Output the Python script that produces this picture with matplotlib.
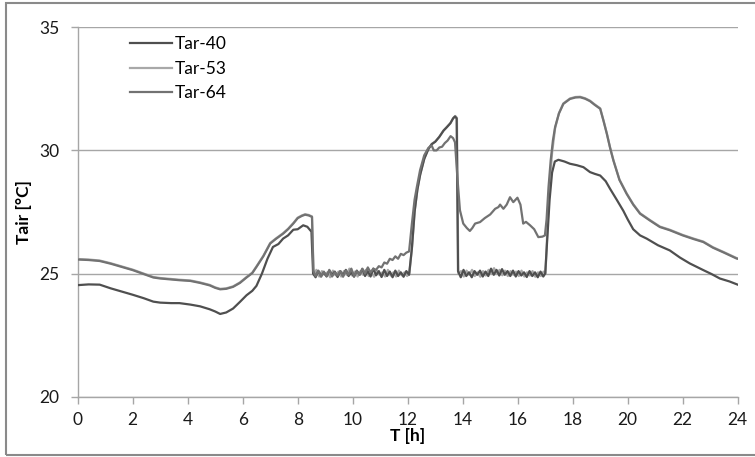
import numpy as np
import matplotlib
matplotlib.use("Agg")
import matplotlib.pyplot as plt
from matplotlib.patches import Rectangle

plt.rcParams['font.family'] = ['Lato', 'DejaVu Sans']

# (hour, air temperature °C)
tar_40 = [
    (0.00, 24.53), (0.40, 24.56), (0.80, 24.55), (1.20, 24.40), (1.60, 24.27), (2.00, 24.14),
    (2.40, 24.00), (2.75, 23.86), (3.00, 23.82), (3.40, 23.80), (3.70, 23.80), (4.10, 23.74),
    (4.45, 23.67), (4.80, 23.55), (5.00, 23.46), (5.18, 23.36), (5.40, 23.42), (5.65, 23.58),
    (5.90, 23.85), (6.14, 24.12), (6.35, 24.30), (6.50, 24.50), (6.70, 25.00), (6.90, 25.60),
    (7.10, 26.08), (7.30, 26.20), (7.47, 26.42), (7.65, 26.55), (7.84, 26.78), (8.00, 26.80),
    (8.20, 26.96), (8.35, 26.90), (8.50, 26.70), (8.56, 25.00),
    (8.65, 24.85), (8.75, 25.10), (8.85, 24.90), (8.95, 25.05), (9.05, 24.88), (9.15, 25.12),
    (9.25, 24.95), (9.35, 25.08), (9.45, 24.86), (9.55, 25.10), (9.65, 24.92), (9.75, 25.15),
    (9.85, 24.90), (9.95, 25.05), (10.05, 24.87), (10.15, 25.12), (10.25, 24.95), (10.35, 25.18),
    (10.45, 24.90), (10.55, 25.10), (10.65, 24.88), (10.75, 25.20), (10.85, 24.93), (10.95, 25.10),
    (11.05, 24.86), (11.15, 25.15), (11.25, 24.90), (11.35, 25.08), (11.45, 24.85), (11.55, 25.12),
    (11.65, 24.90), (11.75, 25.05), (11.85, 24.87), (11.95, 25.10), (12.05, 24.95),
    (12.15, 26.00), (12.25, 27.50), (12.35, 28.40), (12.45, 29.00), (12.60, 29.65), (12.75, 30.05),
    (12.87, 30.25), (13.00, 30.35), (13.15, 30.55), (13.30, 30.80), (13.42, 30.94), (13.55, 31.10),
    (13.65, 31.30), (13.72, 31.38), (13.78, 31.30), (13.83, 25.10),
    (13.93, 24.85), (14.03, 25.15), (14.13, 24.90), (14.23, 25.05), (14.33, 24.85), (14.43, 25.10),
    (14.53, 24.95), (14.63, 25.12), (14.73, 24.88), (14.83, 25.08), (14.93, 24.90), (15.03, 25.20),
    (15.13, 24.95), (15.23, 25.15), (15.33, 24.92), (15.43, 25.18), (15.53, 24.95), (15.63, 25.10),
    (15.73, 24.90), (15.83, 25.12), (15.93, 24.88), (16.03, 25.10), (16.13, 24.92), (16.23, 25.05),
    (16.33, 24.86), (16.43, 25.10), (16.53, 24.90), (16.63, 25.05), (16.73, 24.85), (16.83, 25.08),
    (16.93, 24.88), (17.00, 25.00),
    (17.08, 26.50), (17.16, 28.00), (17.25, 29.10), (17.35, 29.55), (17.48, 29.62), (17.70, 29.55),
    (17.90, 29.46), (18.15, 29.40), (18.39, 29.32), (18.63, 29.12), (18.80, 29.05), (19.00, 28.98),
    (19.20, 28.75), (19.36, 28.44), (19.60, 28.00), (19.84, 27.55), (20.00, 27.20), (20.20, 26.80),
    (20.45, 26.55), (20.69, 26.42), (21.10, 26.15), (21.53, 25.94), (21.90, 25.65), (22.26, 25.41),
    (22.75, 25.14), (23.05, 24.98), (23.35, 24.80), (23.70, 24.68), (24.00, 24.55),
]

tar_53 = [
    (0.00, 25.59), (0.40, 25.57), (0.80, 25.53), (1.20, 25.42), (1.60, 25.29), (2.00, 25.16),
    (2.40, 25.00), (2.75, 24.86), (3.00, 24.82), (3.40, 24.78), (3.70, 24.75), (4.10, 24.72),
    (4.45, 24.64), (4.80, 24.54), (5.00, 24.44), (5.18, 24.38), (5.40, 24.40), (5.65, 24.48),
    (5.90, 24.64), (6.14, 24.86), (6.35, 25.04), (6.50, 25.29), (6.75, 25.72), (7.00, 26.24),
    (7.20, 26.42), (7.47, 26.64), (7.65, 26.82), (7.84, 27.05), (8.00, 27.27), (8.15, 27.36),
    (8.27, 27.41), (8.40, 27.38), (8.52, 27.32), (8.58, 24.95),
    (8.68, 25.15), (8.78, 24.88), (8.88, 25.10), (8.98, 24.95), (9.08, 25.05), (9.18, 24.85),
    (9.28, 25.12), (9.38, 24.93), (9.48, 25.08), (9.58, 24.88), (9.68, 25.10), (9.78, 24.95),
    (9.88, 25.20), (9.98, 24.92), (10.08, 25.08), (10.18, 24.88), (10.28, 25.10), (10.38, 24.95),
    (10.48, 25.15), (10.58, 24.90), (10.68, 25.05), (10.78, 24.87), (10.88, 25.12), (10.98, 24.95),
    (11.08, 25.05), (11.18, 24.88), (11.28, 25.15), (11.38, 24.92), (11.48, 25.05), (11.58, 24.88),
    (11.68, 25.12), (11.78, 24.93), (11.88, 25.05), (11.98, 24.90), (12.06, 25.00),
    (12.16, 26.10), (12.26, 27.60), (12.36, 28.45), (12.46, 29.05), (12.61, 29.70), (12.76, 30.08),
    (12.88, 30.27), (13.01, 30.37), (13.16, 30.57), (13.31, 30.82), (13.43, 30.96), (13.56, 31.12),
    (13.66, 31.32), (13.73, 31.40), (13.79, 31.32), (13.84, 25.00),
    (13.94, 25.10), (14.04, 24.88), (14.14, 25.12), (14.24, 24.95), (14.34, 25.15), (14.44, 24.90),
    (14.54, 25.05), (14.64, 24.87), (14.74, 25.10), (14.84, 24.92), (14.94, 25.15), (15.04, 25.00),
    (15.14, 25.22), (15.24, 24.98), (15.34, 25.15), (15.44, 24.93), (15.54, 25.12), (15.64, 24.90),
    (15.74, 25.10), (15.84, 24.95), (15.94, 25.08), (16.04, 24.90), (16.14, 25.12), (16.24, 24.88),
    (16.34, 25.05), (16.44, 24.92), (16.54, 25.10), (16.64, 24.87), (16.74, 25.05), (16.84, 24.90),
    (16.94, 25.08), (17.01, 25.00),
    (17.08, 26.80), (17.16, 28.60), (17.25, 29.90), (17.36, 30.90), (17.50, 31.52), (17.66, 31.91),
    (17.90, 32.11), (18.10, 32.17), (18.27, 32.18), (18.45, 32.12), (18.63, 32.02), (18.80, 31.87),
    (19.00, 31.71), (19.12, 31.22), (19.24, 30.70), (19.36, 30.12), (19.48, 29.61), (19.70, 28.82),
    (19.96, 28.26), (20.20, 27.82), (20.45, 27.45), (20.80, 27.18), (21.17, 26.91), (21.53, 26.78),
    (22.00, 26.57), (22.40, 26.42), (22.75, 26.30), (23.10, 26.07), (23.50, 25.87), (23.96, 25.63),
    (24.00, 25.62),
]

tar_64 = [
    (0.00, 25.57), (0.40, 25.55), (0.80, 25.51), (1.20, 25.40), (1.60, 25.27), (2.00, 25.14),
    (2.40, 24.98), (2.75, 24.84), (3.00, 24.80), (3.40, 24.76), (3.70, 24.73), (4.10, 24.70),
    (4.45, 24.62), (4.80, 24.52), (5.00, 24.42), (5.18, 24.36), (5.40, 24.38), (5.65, 24.46),
    (5.90, 24.62), (6.14, 24.84), (6.35, 25.02), (6.50, 25.27), (6.75, 25.70), (7.00, 26.22),
    (7.20, 26.40), (7.47, 26.62), (7.65, 26.80), (7.84, 27.03), (8.00, 27.25), (8.15, 27.34),
    (8.27, 27.39), (8.40, 27.36), (8.52, 27.30), (8.57, 25.10),
    (8.65, 24.90), (8.75, 25.12), (8.85, 24.87), (8.95, 25.08), (9.05, 24.90), (9.15, 25.15),
    (9.25, 24.88), (9.35, 25.05), (9.45, 24.92), (9.55, 25.10), (9.65, 24.87), (9.75, 25.12),
    (9.85, 24.95), (9.95, 25.20), (10.05, 24.90), (10.15, 25.10), (10.25, 24.95), (10.35, 25.20),
    (10.45, 25.00), (10.55, 25.25), (10.65, 25.05), (10.75, 25.20), (10.85, 25.15), (10.95, 25.30),
    (11.05, 25.25), (11.15, 25.45), (11.25, 25.40), (11.35, 25.60), (11.45, 25.55), (11.55, 25.70),
    (11.65, 25.60), (11.75, 25.80), (11.85, 25.75), (11.95, 25.85), (12.05, 25.90),
    (12.15, 27.00), (12.25, 28.00), (12.33, 28.50), (12.45, 29.20), (12.60, 29.80), (12.75, 30.10),
    (12.87, 30.20), (12.95, 30.00), (13.05, 30.00), (13.15, 30.12), (13.25, 30.15), (13.35, 30.30),
    (13.45, 30.40), (13.56, 30.58), (13.65, 30.50), (13.72, 30.33), (13.80, 29.00), (13.90, 27.57),
    (14.02, 27.03), (14.15, 26.85), (14.26, 26.73), (14.35, 26.85), (14.45, 27.03), (14.63, 27.09),
    (14.80, 27.25), (15.00, 27.40), (15.18, 27.63), (15.30, 27.70), (15.36, 27.80), (15.48, 27.63),
    (15.60, 27.80), (15.72, 28.10), (15.84, 27.90), (15.99, 28.08), (16.10, 27.80), (16.20, 27.03),
    (16.30, 27.10), (16.45, 26.96), (16.60, 26.80), (16.75, 26.48), (16.90, 26.50), (16.99, 26.55),
    (17.05, 27.20), (17.12, 28.50), (17.20, 29.60), (17.28, 30.40), (17.36, 30.95), (17.50, 31.50),
    (17.66, 31.89), (17.90, 32.09), (18.10, 32.15), (18.27, 32.16), (18.45, 32.10), (18.63, 32.00),
    (18.80, 31.85), (19.00, 31.69), (19.12, 31.20), (19.24, 30.68), (19.36, 30.10), (19.48, 29.59),
    (19.70, 28.80), (19.96, 28.24), (20.20, 27.80), (20.45, 27.43), (20.80, 27.16), (21.17, 26.89),
    (21.53, 26.76), (22.00, 26.55), (22.40, 26.40), (22.75, 26.28), (23.10, 26.05), (23.50, 25.85),
    (23.96, 25.61), (24.00, 25.60),
]

series_labels = ["Tar-40", "Tar-53", "Tar-64"]
series_colors = ["#4f4f4f", "#a8a8a8", "#727272"]
x_ticks = list(range(0, 25, 2))
y_ticks = [20, 25, 30, 35]

W, H = 755, 457
fig = plt.figure(figsize=(W / 100, H / 100), dpi=100)
# axes box in pixel terms of the reference
left, right, top, bottom = 77.7, 737.7, 27.3, 396.7
ax = fig.add_axes([left / W, 1 - bottom / H, (right - left) / W, (bottom - top) / H])

grid_grey = "#a6a6a6"
# light Tar-53 sits underneath the darker lines where they overlap
for data, label, color, z in zip([tar_40, tar_53, tar_64], series_labels,
                                 series_colors, [3, 2, 4]):
    arr = np.array(data)
    ax.plot(arr[:, 0], arr[:, 1], color=color, lw=1.6, label=label, zorder=z)

ax.set_xlim(0, 24)
ax.set_ylim(20, 35)
ax.set_xticks(x_ticks)
ax.set_yticks(y_ticks)
ax.grid(axis="y", color=grid_grey, lw=1.0, zorder=0)
for side in ("top", "right"):
    ax.spines[side].set_visible(False)
for side in ("left", "bottom"):
    ax.spines[side].set_color(grid_grey)
    ax.spines[side].set_linewidth(1.0)
ax.tick_params(axis="both", length=5, width=1.0, color=grid_grey,
               labelsize=12.5, labelcolor="#1a1a1a")
ax.tick_params(axis="x", pad=6)
ax.tick_params(axis="y", pad=8)

ax.set_ylabel("Tair [°C]", fontsize=12.5, fontweight="bold")
ax.yaxis.set_label_coords(-0.069, 0.5)
ax.set_xlabel("T [h]", fontsize=12.5, fontweight="bold")
ax.xaxis.set_label_coords(0.5, -0.086)

ax.legend(loc="upper left", bbox_to_anchor=(130 / W, 1 - 36 / H),
          bbox_transform=fig.transFigure, frameon=False, fontsize=12.5,
          handlelength=2.4, handletextpad=0.2, labelspacing=0.5,
          borderpad=0, borderaxespad=0)

# outer chart frame (right edge falls outside the picture)
fig.patches.append(Rectangle((6 / W, 2 / H), 1.2, 1 - 5 / H, transform=fig.transFigure,
                             fill=False, edgecolor="#8a8a8a", lw=1.5))

fig.savefig("out.png", dpi=100)
